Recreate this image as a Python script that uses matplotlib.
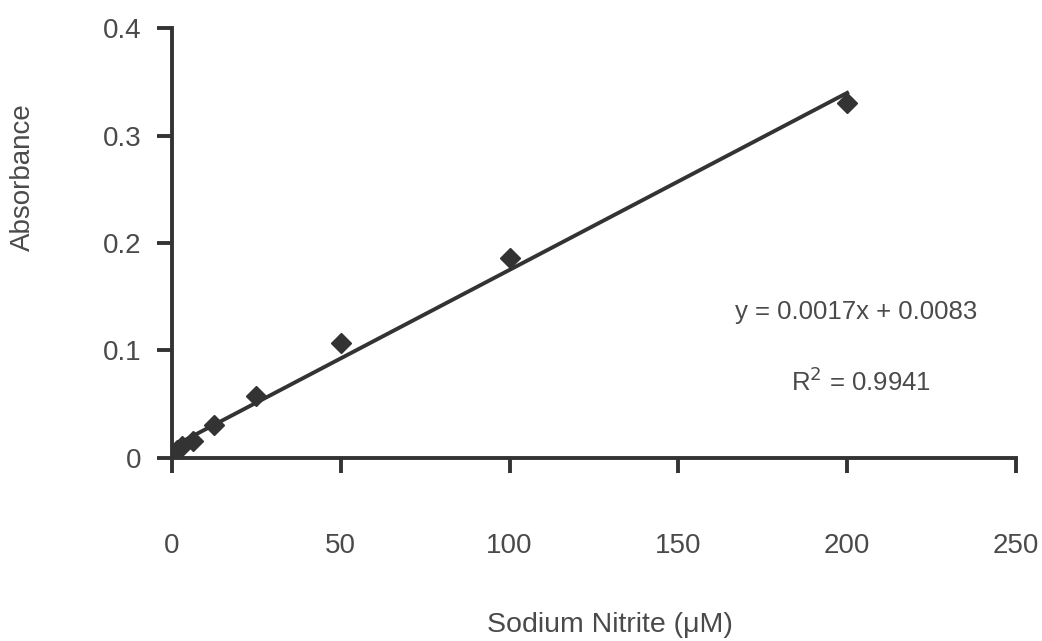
import matplotlib.pyplot as plt
import numpy as np

plt.rcParams['font.family'] = ['Liberation Sans', 'DejaVu Sans']

# nitrite standards (serial dilution) and measured absorbance
conc = [0, 1.5625, 3.125, 6.25, 12.5, 25, 50, 100, 200]
absorbance = [0.003, 0.007, 0.011, 0.016, 0.031, 0.058, 0.107, 0.186, 0.330]

# fit labels as printed on the chart
eq_text = 'y = 0.0017x + 0.0083'
r2_text = 'R$^2$ = 0.9941'

x_ticks = [0, 50, 100, 150, 200, 250]
y_ticks = [0, 0.1, 0.2, 0.3, 0.4]
y_tick_labels = ['0', '0.1', '0.2', '0.3', '0.4']

ink = '#333333'
txt = '#4a4a4a'

fig = plt.figure(figsize=(10.42, 6.41), dpi=100)
ax = fig.add_axes([0.165, 0.2855, 0.81, 0.6708])

ax.plot(conc, absorbance, linestyle='none', marker='D', markersize=10,
        color=ink, zorder=3)
slope, intercept = np.polyfit(conc, absorbance, 1)
xf = np.array([0, max(conc)])
ax.plot(xf, slope * xf + intercept, color=ink, lw=2.8, zorder=2)

ax.set_xlim(0, 250)
ax.set_ylim(0, 0.4)
ax.set_xticks(x_ticks)
ax.set_yticks(y_ticks)
ax.set_yticklabels(y_tick_labels)

for s in ['top', 'right']:
    ax.spines[s].set_visible(False)
for s in ['left', 'bottom']:
    ax.spines[s].set_linewidth(2.8)
    ax.spines[s].set_color(ink)
    ax.spines[s].set_clip_on(False)

ax.tick_params(axis='x', direction='out', length=11, width=2.8, color=ink,
               pad=43, labelsize=20, labelcolor=txt)
ax.tick_params(axis='y', direction='out', length=11, width=2.8, color=ink,
               pad=11, labelsize=20, labelcolor=txt)

ax.text(202.7, 0.136, eq_text, ha='center', va='center', fontsize=18.5, color=txt)
ax.text(204.0, 0.0707, r2_text, ha='center', va='center', fontsize=18.5, color=txt)

fig.text(23 / 1042, 1 - 177 / 641, 'Absorbance', rotation=90, ha='center',
         va='center', fontsize=20, color=txt)
fig.text(610 / 1042, 1 - 625 / 641, 'Sodium Nitrite (μM)', ha='center',
         va='center', fontsize=20.5, color=txt)

fig.savefig('out.png', dpi=100, facecolor='white')
